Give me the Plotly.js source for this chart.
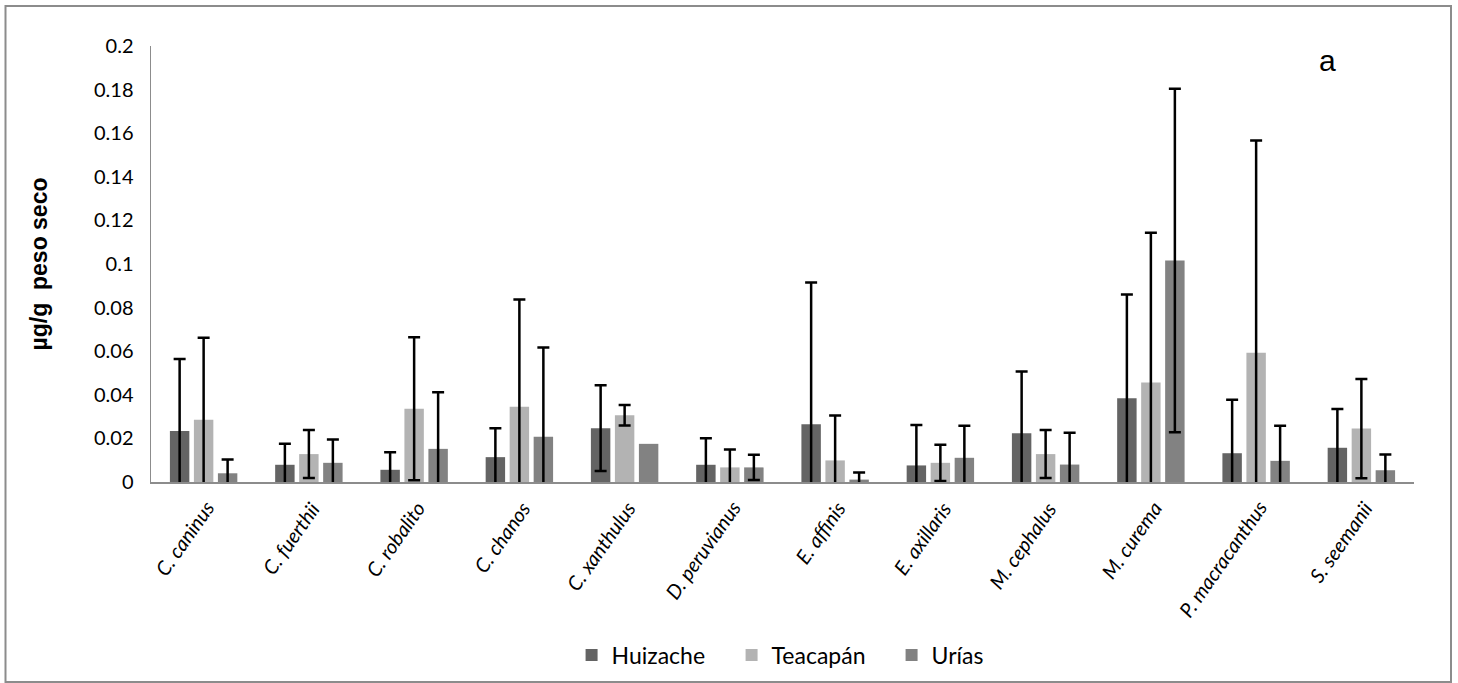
<!DOCTYPE html>
<html>
<head>
<meta charset="utf-8">
<script src="https://cdn.plot.ly/plotly-3.0.1.min.js"></script>
<style>
html,body{margin:0;padding:0;background:#fff;}
#chart{width:1458px;height:683px;}
</style>
</head>
<body>
<div id="chart"></div>
<script>
var species = ["C. caninus","C. fuerthii","C. robalito","C. chanos","C. xanthulus","D. peruvianus","E. affinis","E. axillaris","M. cephalus","M. curema","P. macracanthus","S. seemanii"];
var seriesNames = ["Huizache","Teacapán","Urías"];
var huizache   = [0.0234,0.0079,0.0056,0.0114,0.0247,0.0079,0.0265,0.0076,0.0224,0.0384,0.0132,0.0157];
var huizacheSD = [0.0330,0.0096,0.0081,0.0133,0.0197,0.0122,0.0650,0.0186,0.0283,0.0476,0.0245,0.0178];
var teacapan   = [0.0285,0.0128,0.0336,0.0345,0.0306,0.0067,0.0099,0.0088,0.0128,0.0456,0.0593,0.0245];
var teacapanSD = [0.0377,0.0110,0.0328,0.0492,0.0047,0.0082,0.0206,0.0083,0.0110,0.0687,0.0974,0.0228];
var urias      = [0.0040,0.0088,0.0152,0.0207,0.0175,0.0067,0.0011,0.0111,0.0080,0.1016,0.0097,0.0054];
var uriasSD    = [0.0063,0.0107,0.0260,0.0410,NaN,0.0058,0.0033,0.0147,0.0146,0.0788,0.0161,0.0072];
var yTickVals  = [0,0.02,0.04,0.06,0.08,0.1,0.12,0.14,0.16,0.18,0.2];
var yTickText  = ["0","0.02","0.04","0.06","0.08","0.1","0.12","0.14","0.16","0.18","0.2"];

var colors = ["#646464","#b3b3b3","#828282"];
var vals = [huizache, teacapan, urias];
var sds = [huizacheSD, teacapanSD, uriasSD];

var traces = seriesNames.map(function(name, i){
  return {
    type: "bar", name: name, x: species, y: vals[i],
    marker: {color: colors[i]},
    error_y: {type: "data", array: sds[i], visible: true, color: "#000", thickness: 2.5, width: 6},
    hoverinfo: "x+y"
  };
});

var labelAnnotations = species.map(function(s){
  return {
    text: s, xref: "x", yref: "y", x: s, y: 0,
    xanchor: "right", yanchor: "top", xshift: 18, yshift: -12,
    textangle: -55, showarrow: false,
    font: {family: "Lato, sans-serif", size: 20, style: "italic", color: "#000"}
  };
});

var layout = {
  width: 1458, height: 683,
  margin: {l: 151, r: 44, t: 46, b: 201},
  paper_bgcolor: "#fff", plot_bgcolor: "#fff",
  barmode: "group", bargap: 0.316, bargroupgap: 0.19,
  font: {family: "Lato, 'Open Sans', sans-serif", color: "#000"},
  xaxis: {
    type: "category", range: [-0.5, 11.5], autorange: false,
    showline: true, linecolor: "#8c8c8c", linewidth: 2,
    ticks: "", showticklabels: false, automargin: false,
    showgrid: false, zeroline: false
  },
  yaxis: {
    range: [0, 0.2], autorange: false,
    tickvals: yTickVals, ticktext: yTickText,
    showline: true, linecolor: "#8c8c8c", linewidth: 1.5,
    ticks: "", ticklabelstandoff: 12, automargin: false,
    tickfont: {family: "Lato, sans-serif", size: 20},
    showgrid: false, zeroline: false,
    title: {text: "µg/g  peso seco", font: {family: "Liberation Sans, Arial, sans-serif", size: 23, weight: "bold"}, standoff: 40}
  },
  legend: {
    orientation: "h", xref: "paper", x: 0.333, xanchor: "left",
    yref: "container", y: 0.041, yanchor: "middle",
    font: {family: "Lato, sans-serif", size: 23}, itemwidth: 30,
    entrywidth: 115, entrywidthmode: "pixels",
    traceorder: "normal"
  },
  annotations: labelAnnotations.concat([{
    text: "a", xref: "paper", yref: "paper", x: 0.94, y: 1.01,
    showarrow: false, font: {family: "Liberation Sans, Arial, sans-serif", size: 30}
  }]),
  shapes: [{
    type: "rect", xref: "paper", yref: "paper",
    x0: -0.1152, x1: 1.0293, y0: -0.4587, y1: 1.0917,
    line: {color: "#8c8c8c", width: 2}, layer: "below"
  }]
};

Plotly.newPlot("chart", traces, layout, {displayModeBar: false, staticPlot: true});
</script>
</body>
</html>
